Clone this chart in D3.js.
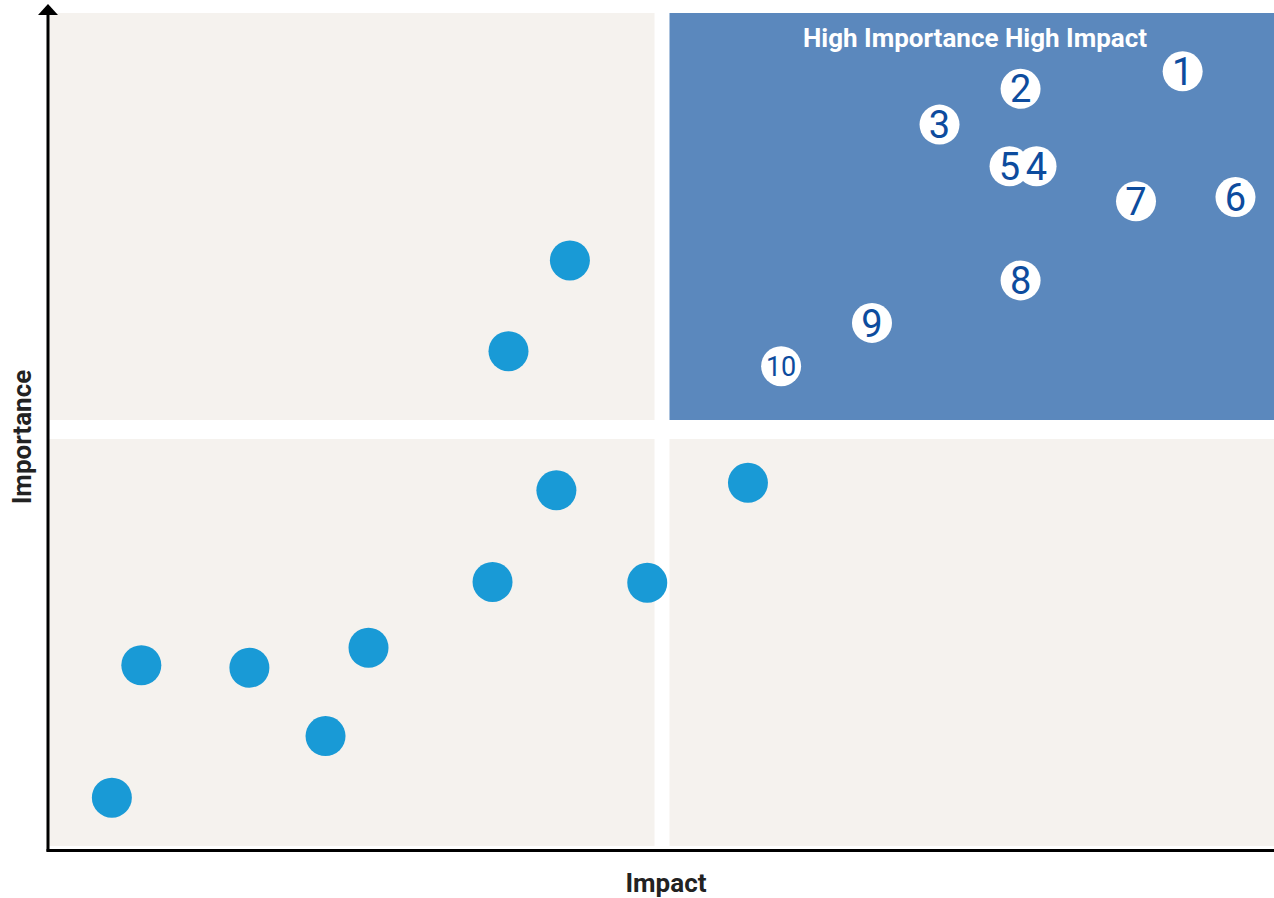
<!DOCTYPE html>
<html>
<head>
<meta charset="utf-8">
<script src="https://cdn.jsdelivr.net/npm/d3@7"></script>
<style>
  body { margin: 0; background: #fff; }
  svg { display: block; font-family: Roboto, "Noto Sans", sans-serif; }
</style>
</head>
<body>
<div id="chart"></div>
<script>
var width = 1274;
var height = 898;

// dots outside the priority quadrant (impact, importance)
var dotImpact     = [42.5, 37.5, 41.4, 57.0, 36.2, 48.8, 7.6, 16.4, 26.1, 22.6, 5.2];
var dotImportance = [70.3, 59.4, 42.7, 43.6, 31.7, 31.6, 21.7, 21.4, 23.8, 13.2, 5.8];

// numbered items in high importance / high impact
var rankLabels     = ["1", "2", "3", "5", "4", "7", "6", "8", "9", "10"];
var rankImpact     = [92.4, 79.2, 72.6, 78.3, 80.5, 88.6, 96.7, 79.2, 67.1, 59.7];
var rankImportance = [93.0, 90.9, 86.6, 81.6, 81.6, 77.4, 77.9, 67.9, 62.8, 57.6];

var quadTitle = "High Importance High Impact";
var xTitle = "Impact";
var yTitle = "Importance";

var area = {left: 48, right: 1276, top: 13, bottom: 846};
var gapX = 15, gapY = 19;

var x = d3.scaleLinear().domain([0, 100]).range([area.left, area.right]);
var y = d3.scaleLinear().domain([0, 100]).range([area.bottom, area.top]);

var svg = d3.select("#chart").append("svg")
  .attr("width", width)
  .attr("height", height);

// quadrants
var qw = (area.right - area.left - gapX) / 2;
var qh = (area.bottom - area.top - gapY) / 2;
var quads = [
  {x: area.left, y: area.top, fill: "#f5f2ee"},
  {x: area.left + qw + gapX, y: area.top, fill: "#5b88bd"},
  {x: area.left, y: area.top + qh + gapY, fill: "#f5f2ee"},
  {x: area.left + qw + gapX, y: area.top + qh + gapY, fill: "#f5f2ee"}
];
svg.selectAll("rect.quad").data(quads).enter().append("rect")
  .attr("class", "quad")
  .attr("x", function(d) { return d.x; })
  .attr("y", function(d) { return d.y; })
  .attr("width", qw)
  .attr("height", qh)
  .attr("fill", function(d) { return d.fill; });

svg.append("text")
  .attr("x", 975)
  .attr("y", 47)
  .attr("text-anchor", "middle")
  .attr("fill", "#fff")
  .attr("font-weight", "bold")
  .attr("font-size", 26)
  .text(quadTitle);

// axes
svg.append("line")
  .attr("x1", 48).attr("x2", 48)
  .attr("y1", 14).attr("y2", 851.5)
  .attr("stroke", "#000").attr("stroke-width", 3);
svg.append("line")
  .attr("x1", 46.5).attr("x2", width)
  .attr("y1", 850.5).attr("y2", 850.5)
  .attr("stroke", "#000").attr("stroke-width", 3);
svg.append("path")
  .attr("d", "M38,15 L48,4 L58,15 Z")
  .attr("fill", "#000");

svg.append("text")
  .attr("x", 666)
  .attr("y", 892)
  .attr("text-anchor", "middle")
  .attr("font-weight", "bold")
  .attr("font-size", 26)
  .attr("fill", "#222")
  .text(xTitle);

svg.append("text")
  .attr("transform", "translate(31,437) rotate(-90)")
  .attr("text-anchor", "middle")
  .attr("font-weight", "bold")
  .attr("font-size", 26)
  .attr("fill", "#222")
  .text(yTitle);

// blue dots
svg.selectAll("circle.dot").data(dotImpact).enter().append("circle")
  .attr("class", "dot")
  .attr("cx", function(d) { return x(d); })
  .attr("cy", function(d, i) { return y(dotImportance[i]); })
  .attr("r", 20)
  .attr("fill", "#199ad6");

// numbered circles
var ranks = rankLabels.map(function(l, i) {
  return {label: l, ix: rankImpact[i], iy: rankImportance[i]};
});
svg.selectAll("circle.rank").data(ranks).enter().append("circle")
  .attr("class", "rank")
  .attr("cx", function(d) { return x(d.ix); })
  .attr("cy", function(d) { return y(d.iy); })
  .attr("r", 20)
  .attr("fill", "#fff");
svg.selectAll("text.rank").data(ranks).enter().append("text")
  .attr("class", "rank")
  .attr("x", function(d) { return x(d.ix); })
  .attr("y", function(d) { return y(d.iy); })
  .attr("dy", "0.36em")
  .attr("text-anchor", "middle")
  .attr("fill", "#0d4c9e")
  .attr("font-size", function(d) { return d.label.length > 1 ? 27 : 38; })
  .text(function(d) { return d.label; });
</script>
</body>
</html>
